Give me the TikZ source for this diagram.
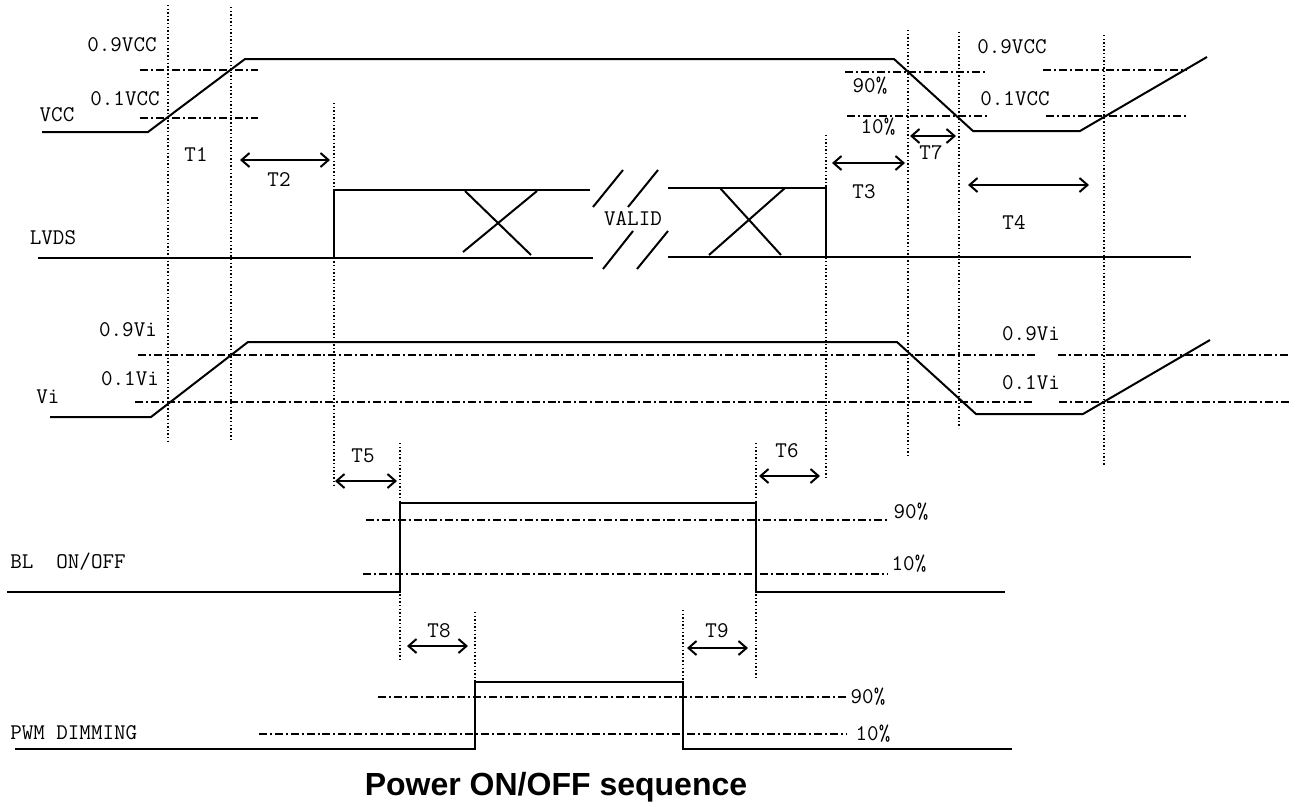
\documentclass[tikz,border=0pt]{standalone}
\usepackage{fontspec}
\setmainfont{Liberation Sans}
\usetikzlibrary{arrows.meta}

\begin{document}
\begin{tikzpicture}[
  x=0.75pt, y=-0.75pt,
  sig/.style={line width=1.5pt, line join=miter},
  guide/.style={line width=1.1pt, dash pattern=on 1.1pt off 1.6pt},
  lvl/.style={line width=1.4pt, dash pattern=on 6pt off 2.2pt on 1.5pt off 2.2pt},
  dim/.style={line width=1.5pt,
    {Straight Barb[length=6pt,width=10.5pt]}-{Straight Barb[length=6pt,width=10.5pt]}},
  lbl/.style={font=\ttfamily\fontsize{16.8}{18}\selectfont, inner sep=0pt}
]
\useasboundingbox (0,0) rectangle (1297,807);

% dotted time marks
\foreach \x/\ya/\yb in {168/5/443, 231/7/442, 334/103/487, 400/443/662,
    475/612/682, 683/610/682, 756/443/680, 826/135/478, 908/30/458,
    959/32/428, 1104/35/466}
  \draw[guide] (\x,\ya) -- (\x,\yb);

% threshold levels
\draw[lvl] (140,70) -- (258,70);    \draw[lvl] (140,118) -- (258,118);
\draw[lvl] (845,72) -- (985,72);    \draw[lvl] (847,116) -- (987,116);
\draw[lvl] (1043,70) -- (1187,70);  \draw[lvl] (1046,116) -- (1187,116);
\draw[lvl] (138,355) -- (1036,355); \draw[lvl] (1058,355) -- (1290,355);
\draw[lvl] (135,402) -- (1032,402); \draw[lvl] (1059,402) -- (1290,402);
\draw[lvl] (366,520) -- (887,520);  \draw[lvl] (363,574) -- (888,574);
\draw[lvl] (378,697) -- (847,697);  \draw[lvl] (259,734) -- (847,734);

% VCC
\draw[sig] (42,132) -- (148,132) -- (245,59) -- (894,59) -- (973,131)
  -- (1080,131) -- (1207,57);

% LVDS
\draw[sig] (38,258) -- (593,258);
\draw[sig] (334,258) -- (334,190) -- (590,190);
\draw[sig] (465,191) -- (531,255);
\draw[sig] (537,191) -- (463,252);
\draw[sig] (593,207) -- (623,170);  \draw[sig] (628,207) -- (658,170);  % break
\draw[sig] (603,269) -- (633,231);  \draw[sig] (637,269) -- (668,231);
\draw[sig] (668,188) -- (826,188) -- (826,257);
\draw[sig] (668,257) -- (1191,257);
\draw[sig] (720,188) -- (781,255);
\draw[sig] (785,188) -- (709,255);

% Vi
\draw[sig] (50,417) -- (151,417) -- (248,342) -- (897,342) -- (976,414)
  -- (1083,414) -- (1210,340);

% BL ON/OFF
\draw[sig] (7,592) -- (400,592) -- (400,503) -- (756,503) -- (756,592) -- (1005,592);

% PWM DIMMING
\draw[sig] (15,749) -- (475,749) -- (475,682) -- (683,682) -- (683,749) -- (1012,749);

% timing arrows
\draw[dim] (240,160) -- (330,160);   % T2
\draw[dim] (832,163) -- (905,163);   % T3
\draw[dim] (910,136) -- (956,136);   % T7
\draw[dim] (968,185) -- (1089,185);  % T4
\draw[dim] (335,481) -- (397,481);   % T5
\draw[dim] (759,476) -- (820,476);   % T6
\draw[dim] (407,646) -- (468,646);   % T8
\draw[dim] (687,648) -- (748,648);   % T9

% labels
\node[lbl] (vcc)   at (57,115)   {VCC};
\node[lbl] (vcc9)  at (122,45)   {0.9VCC};
\node[lbl] (vcc1)  at (125,99)   {0.1VCC};
\node[lbl] (t1)    at (196,155)  {T1};
\node[lbl] (t2)    at (279,180)  {T2};
\node[lbl] (lvds)  at (53,238)   {LVDS};
\node[lbl] (valid) at (633,219)  {VALID};
\node[lbl] (vccr9) at (1012,47)  {0.9VCC};
\node[lbl] (vccr1) at (1015,99)  {0.1VCC};
\node[lbl] (p90a)  at (870,86)   {90\%};
\node[lbl] (p10a)  at (878,127)  {10\%};
\node[lbl] (t7)    at (931,153)  {T7};
\node[lbl] (t3)    at (864,192)  {T3};
\node[lbl] (t4)    at (1014,222) {T4};
\node[lbl] (vi)    at (48,397)   {Vi};
\node[lbl] (vi9)   at (128,330)  {0.9Vi};
\node[lbl] (vi1)   at (130,379)  {0.1Vi};
\node[lbl] (vir9)  at (1031,334) {0.9Vi};
\node[lbl] (vir1)  at (1031,383) {0.1Vi};
\node[lbl] (t5)    at (363,456)  {T5};
\node[lbl] (t6)    at (787,451)  {T6};
\node[lbl] (p90b)  at (911,512)  {90\%};
\node[lbl] (p10b)  at (909,564)  {10\%};
\node[lbl, anchor=west] (bl) at (10,562) {BL\ \ ON/OFF};
\node[lbl] (t8)    at (439,631)  {T8};
\node[lbl] (t9)    at (717,631)  {T9};
\node[lbl] (p90c)  at (868,697)  {90\%};
\node[lbl] (p10c)  at (873,734)  {10\%};
\node[lbl, anchor=west] (pwm) at (10,733) {PWM DIMMING};

\node[font=\bfseries\fontsize{24}{28}\selectfont, inner sep=0pt, anchor=base]
  (title) at (556,795) {Power ON/OFF sequence};
\end{tikzpicture}
\end{document}
